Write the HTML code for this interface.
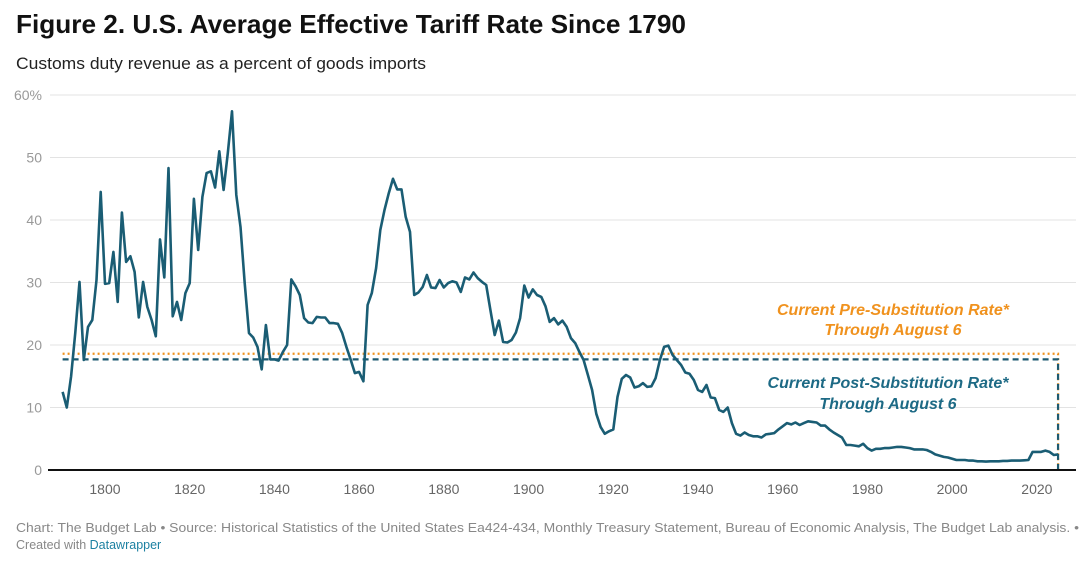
<!DOCTYPE html>
<html><head><meta charset="utf-8"><style>
html,body{margin:0;padding:0;background:#fff;}
svg{display:block;font-family:"Liberation Sans",sans-serif;}
</style></head><body>
<svg id="chart" width="1092" height="585" viewBox="0 0 1092 585">
<text x="16" y="33" font-size="26" font-weight="bold" fill="#111" textLength="670" lengthAdjust="spacingAndGlyphs">Figure 2. U.S. Average Effective Tariff Rate Since 1790</text>
<text x="16" y="69" font-size="17" fill="#222" textLength="410" lengthAdjust="spacingAndGlyphs">Customs duty revenue as a percent of goods imports</text>
<g id="grid"></g>
<g id="xticks"></g>
<g id="refs"></g>
<g id="series"></g>
<text x="893" y="315" font-size="16" font-weight="bold" font-style="italic" fill="#f0921e" text-anchor="middle">Current Pre-Substitution Rate*</text>
<text x="893" y="335" font-size="16" font-weight="bold" font-style="italic" fill="#f0921e" text-anchor="middle">Through August 6</text>
<text x="888" y="388" font-size="16" font-weight="bold" font-style="italic" fill="#1d6a85" text-anchor="middle">Current Post-Substitution Rate*</text>
<text x="888" y="409" font-size="16" font-weight="bold" font-style="italic" fill="#1d6a85" text-anchor="middle">Through August 6</text>
<text x="16" y="532" font-size="12.5" fill="#888" textLength="1063" lengthAdjust="spacingAndGlyphs">Chart: The Budget Lab • Source: Historical Statistics of the United States Ea424-434, Monthly Treasury Statement, Bureau of Economic Analysis, The Budget Lab analysis. •</text>
<text x="16" y="549" font-size="12.5" fill="#888">Created with <tspan fill="#1d81a2">Datawrapper</tspan></text>
</svg>
<script>
const startYear = 1790;
const rates = [12.5,10.0,15,22,30.1,17.6,22.9,24,30.4,44.5,
29.8,29.9,34.9,26.9,41.2,33.3,34.2,31.7,24.4,30.1,
26.1,24,21.4,36.9,30.8,48.3,24.6,26.9,24,28.3,
29.9,43.4,35.2,43.7,47.5,47.8,45.2,51,44.8,50.7,
57.4,44,38.9,29.9,21.9,21.2,19.7,16.1,23.2,17.7,
17.7,17.5,18.9,20,30.5,29.4,28,24.3,23.6,23.5,
24.5,24.4,24.4,23.5,23.5,23.4,21.9,19.7,17.7,15.5,
15.7,14.2,26.4,28.3,32.3,38.4,41.6,44.3,46.6,44.9,
44.9,40.5,38.1,28,28.4,29.3,31.2,29.2,29.1,30.4,
29.2,29.9,30.2,30,28.5,30.8,30.5,31.6,30.7,30.1,
29.6,25.6,21.6,23.9,20.5,20.4,20.8,22,24.3,29.5,
27.6,28.9,28,27.7,26.2,23.7,24.3,23.3,23.9,22.9,
21.1,20.3,18.9,17.6,15.2,12.8,9,6.9,5.8,6.2,
6.5,11.7,14.6,15.2,14.8,13.2,13.4,13.9,13.3,13.4,
14.7,17.6,19.7,19.9,18.4,17.6,16.8,15.6,15.4,14.4,
12.8,12.5,13.6,11.6,11.5,9.6,9.3,10,7.5,5.8,
5.5,6,5.6,5.4,5.4,5.2,5.7,5.8,5.9,6.5,
7,7.5,7.3,7.6,7.2,7.5,7.8,7.7,7.6,7.1,
7.1,6.5,6,5.6,5.2,4,4,3.9,3.8,4.2,
3.5,3.1,3.4,3.4,3.5,3.5,3.6,3.7,3.7,3.6,
3.5,3.3,3.3,3.3,3.2,2.9,2.5,2.3,2.1,2,
1.8,1.6,1.6,1.6,1.5,1.5,1.4,1.4,1.35,1.4,
1.4,1.4,1.45,1.45,1.5,1.5,1.5,1.55,1.6,2.9,
2.9,2.9,3.1,2.9,2.4,2.5];
const yTicks = [0,10,20,30,40,50,60];
const yTickLabels = ["0","10","20","30","40","50","60%"];
const xTicks = [1800,1820,1840,1860,1880,1900,1920,1940,1960,1980,2000,2020];
const preRate = [18.6];
const postRate = [17.7];
const refEndYear = [2025];

const NS = "http://www.w3.org/2000/svg";
const X = yr => 62.6 + (yr - 1790) * 4.236;
const Y = v => 470 - v * 6.25;
function mk(tag, attrs, parent){const e=document.createElementNS(NS,tag);for(const k in attrs)e.setAttribute(k,attrs[k]);parent.appendChild(e);return e;}

const grid = document.getElementById('grid');
yTicks.forEach((t,i)=>{
  if(t!==0){
    const l = mk('line',{x1:50,x2:1076,y1:Y(t),y2:Y(t),stroke:'#e3e3e3','stroke-width':1},grid);
    
    
  }
  const tx = mk('text',{x:42,y:Y(t)+5,'font-size':14,fill:'#999','text-anchor':'end'},grid);
  tx.textContent = yTickLabels[i];
  
  
});
const xg = document.getElementById('xticks');
xTicks.forEach(t=>{
  const tx = mk('text',{x:X(t),y:494,'font-size':14,fill:'#666','text-anchor':'middle'},xg);
  tx.textContent = t;
  
  
});
const refs = document.getElementById('refs');
const xe = X(refEndYear[0]);
const p1 = mk('path',{d:`M${X(1790)},${Y(preRate[0])}H${xe}V${Y(0)}`,fill:'none',stroke:'#f0921e','stroke-width':2.2,'stroke-dasharray':'2 3'},refs);


const p2 = mk('path',{d:`M${X(1790)},${Y(postRate[0])}H${xe}V${Y(0)}`,fill:'none',stroke:'#1d5a70','stroke-width':2.2,'stroke-dasharray':'6 4'},refs);



const ser = document.getElementById('series');
const d = rates.map((v,i)=>(i?'L':'M')+X(startYear+i).toFixed(1)+','+Y(v).toFixed(1)).join('');
const line = mk('path',{d:d,fill:'none',stroke:'#1a5d74','stroke-width':2.6,'stroke-linejoin':'round'},ser);


const ax = mk('line',{x1:48,x2:1076,y1:470,y2:470,stroke:'#111','stroke-width':2},ser);


</script>
</body></html>
